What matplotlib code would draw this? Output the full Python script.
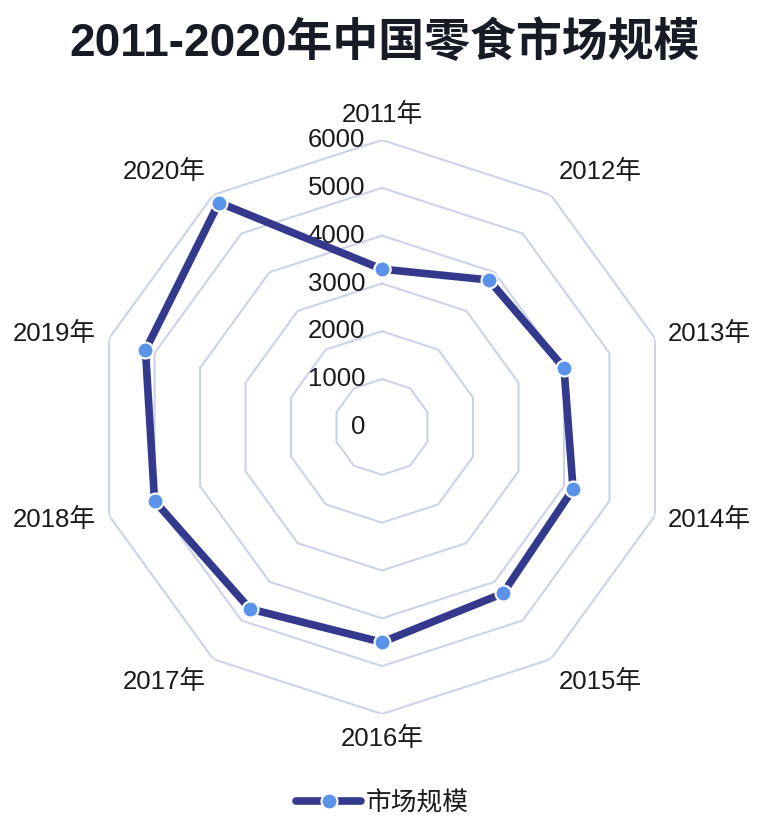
import numpy as np
import matplotlib
matplotlib.use("Agg")
import matplotlib.pyplot as plt

plt.rcParams['font.family'] = ['Liberation Sans', 'Noto Sans CJK SC']

# data
years = ['2011年', '2012年', '2013年', '2014年', '2015年',
         '2016年', '2017年', '2018年', '2019年', '2020年']
market_size = [3300, 3800, 4000, 4200, 4300, 4500, 4700, 5000, 5200, 5800]
ring_values = [1000, 2000, 3000, 4000, 5000, 6000]
tick_values = [0, 1000, 2000, 3000, 4000, 5000, 6000]
series_name = '市场规模'
title = '2011-2020年中国零食市场规模'

line_color = '#333a8e'
marker_color = '#5b93ea'
grid_color = '#ccd3e8'
text_color = '#1a1a1a'

fig = plt.figure(figsize=(7.73, 8.26), dpi=100)
ax = fig.add_axes([0.1229, 0.1356, 0.7426, 0.6949], projection='polar')
ax.set_theta_zero_location('N')
ax.set_theta_direction(-1)
ax.set_ylim(0, 6000)
ax.grid(False)
ax.spines['polar'].set_visible(False)
ax.set_xticks([])
ax.set_yticks([])

n = len(years)
angles = np.linspace(0, 2 * np.pi, n, endpoint=False)
closed = np.append(angles, angles[0])

# polygon grid
for rv in ring_values:
    ax.plot(closed, [rv] * (n + 1), color=grid_color, lw=1.5, zorder=1)

# radial tick labels
for tv in tick_values:
    ax.annotate(str(tv), xy=(0, tv), xytext=(-17, 0), textcoords='offset pixels',
                ha='right', va='center', fontsize=18.5, color=text_color, zorder=2)

# category labels
for a, lab in zip(angles, years):
    s, c = np.sin(a), np.cos(a)
    ha = 'center' if abs(s) < 0.05 else ('left' if s > 0 else 'right')
    va = 'center' if abs(c) < 0.5 else ('bottom' if c > 0 else 'top')
    ax.text(a, 6280, lab, ha=ha, va=va, fontsize=18.5, color=text_color,
            clip_on=False)

vals = market_size + market_size[:1]
ax.plot(closed, vals, color=line_color, lw=5.5, solid_capstyle='round',
        solid_joinstyle='round', marker='o', markersize=11.5,
        markerfacecolor=marker_color, markeredgecolor='white',
        markeredgewidth=1.5, clip_on=False, zorder=3, label=series_name)

fig.text(0.497, 0.947, title, ha='center', va='center', fontsize=33,
         fontweight='bold', color='#161b26')

leg = fig.legend(loc='center', bbox_to_anchor=(0.495, 0.028), frameon=False,
                 fontsize=18.5, handlelength=2.5, handletextpad=0.2)
for t in leg.get_texts():
    t.set_color(text_color)

fig.savefig('out.png', dpi=100, facecolor='white')
